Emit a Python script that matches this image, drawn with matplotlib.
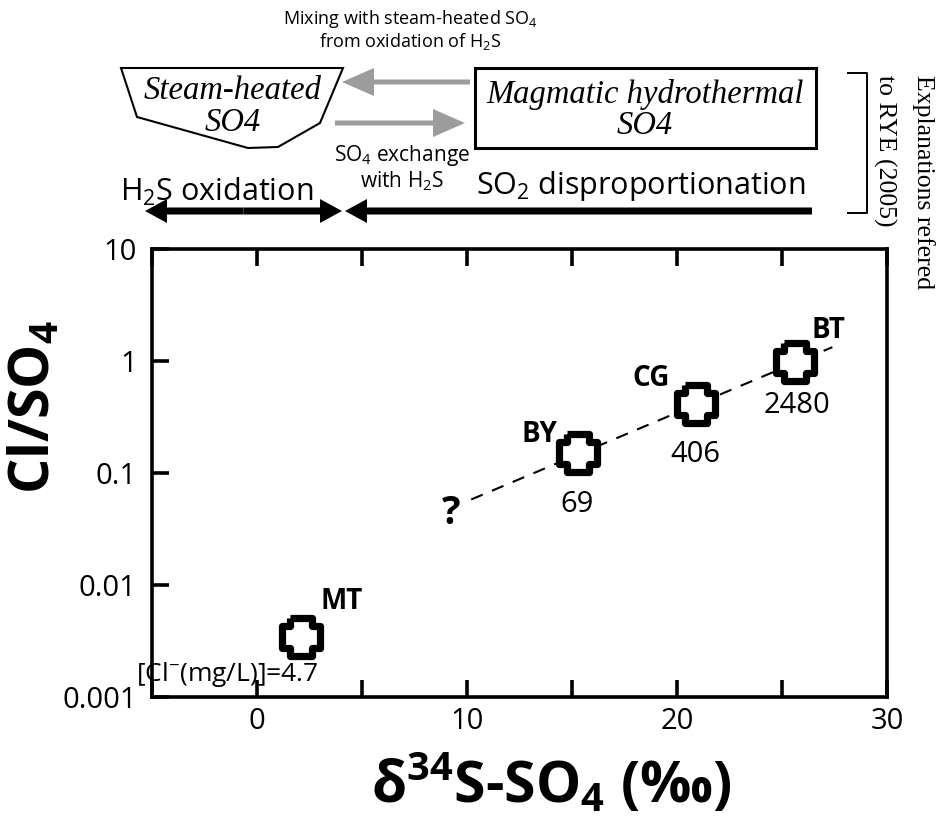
import matplotlib
matplotlib.use("Agg")
import matplotlib.pyplot as plt
from matplotlib.markers import MarkerStyle
from matplotlib.patches import Polygon, Rectangle, FancyArrow
from matplotlib.ticker import NullLocator

plt.rcParams["font.family"] = ["Open Sans", "DejaVu Sans"]
plt.rcParams["mathtext.default"] = "regular"

# hot spring samples: d34S of sulfate (permil) vs Cl/SO4
sites = ["MT", "BY", "CG", "BT"]
d34s = [2.1, 15.3, 20.9, 25.6]
cl_so4 = [0.0034, 0.15, 0.41, 0.98]
cl_mgl = ["[Cl$^{-}$(mg/L)]=4.7", "69", "406", "2480"]

# dashed trend through BY-CG-BT, extended down to "?"
trend_x = [10.2, 27.4]
trend_y = [0.058, 1.33]

xticks = [-5, 0, 5, 10, 15, 20, 25, 30]
xtick_labels = ["", "0", "", "10", "", "20", "", "30"]
yticks = [0.001, 0.01, 0.1, 1, 10]
ytick_labels = ["0.001", "0.01", "0.1", "1", "10"]

W, H = 937, 823
fig = plt.figure(figsize=(W / 100, H / 100), dpi=100)

# overlay in pixel coordinates for the schematic on top (drawn underneath)
ov = fig.add_axes([0, 0, 1, 1], zorder=0)
ov.set_xlim(0, W)
ov.set_ylim(H, 0)
ov.axis("off")

ax = fig.add_axes([152 / W, 1 - 697 / H, (887 - 152) / W, (697 - 249) / H],
                  zorder=1)
ax.patch.set_visible(False)

ax.set_yscale("log")
ax.set_xlim(-5, 30)
ax.set_ylim(0.001, 10)
ax.set_xticks(xticks)
ax.set_xticklabels(xtick_labels, fontsize=21)
ax.set_yticks(yticks)
ax.set_yticklabels(ytick_labels, fontsize=21)
ax.yaxis.set_minor_locator(NullLocator())
ax.xaxis.set_minor_locator(NullLocator())
ax.tick_params(which="major", direction="in", length=12, width=2.6,
               color="black", top=True, bottom=True, left=True, right=False)
ax.tick_params(axis="x", pad=7)
ax.tick_params(axis="y", pad=11)
for s in ax.spines.values():
    s.set_linewidth(2.6)

ax.plot(trend_x, trend_y, color="k", lw=1.5, ls=(0, (6, 4.8)), zorder=2)

plus = [(-0.56, 1), (0.56, 1), (0.56, 0.56), (1, 0.56), (1, -0.56),
        (0.56, -0.56), (0.56, -1), (-0.56, -1), (-0.56, -0.56), (-1, -0.56),
        (-1, 0.56), (-0.56, 0.56), (-0.56, 1)]
mk = MarkerStyle(plus, joinstyle="miter")
ax.plot(d34s, cl_so4, ls="none", marker=mk, ms=27.5, mfc="white", mec="k",
        mew=5.2, zorder=3)

name_off = [(41, 36), (-39, 19), (-45, 26), (34, 31)]
num_off = [(-74, -37), (-1, -51), (-1, -50), (2, -44)]
for i in range(len(sites)):
    ax.annotate(sites[i], (d34s[i], cl_so4[i]), xytext=name_off[i],
                textcoords="offset pixels", ha="center", va="center",
                fontsize=20, fontweight="bold")
    ax.annotate(cl_mgl[i], (d34s[i], cl_so4[i]), xytext=num_off[i],
                textcoords="offset pixels", ha="center", va="center",
                fontsize=19 if i == 0 else 21)
ax.annotate("?", (trend_x[0], trend_y[0]), xytext=(-20, -14),
            textcoords="offset pixels", ha="center", va="center",
            fontsize=28, fontweight="bold")

serif = ["Liberation Serif", "DejaVu Serif"]

ov.text(410, 30, "Mixing with steam-heated SO$_4$\nfrom oxidation of H$_2$S",
        ha="center", va="center", fontsize=13, linespacing=1.1)

ov.add_patch(Polygon([(121, 68), (343, 68), (320, 123), (278, 147),
                      (248, 148), (137, 117)], closed=True, fill=False,
                     lw=1.5, ec="k"))
ov.text(233, 107, "Steam-heated\nSO4", ha="center", va="center",
        family=serif, style="italic", fontsize=23.5, linespacing=1.05)

ov.add_patch(Rectangle((475, 68), 341, 80, fill=False, lw=2.2, ec="k"))
ov.text(645, 110, "Magmatic hydrothermal\nSO4", ha="center", va="center",
        family=serif, style="italic", fontsize=23.5, linespacing=1.05)

grey = "#9c9c9c"
ov.add_patch(FancyArrow(470, 82, -128, 0, width=5, head_width=28,
                        head_length=32, length_includes_head=True,
                        color=grey, lw=0))
ov.add_patch(FancyArrow(335, 123, 130, 0, width=5, head_width=28,
                        head_length=32, length_includes_head=True,
                        color=grey, lw=0))

ov.text(402, 168, "SO$_4$ exchange\nwith H$_2$S", ha="center", va="center",
        fontsize=15, linespacing=1.1)
ov.text(217, 192, "H$_2$S oxidation", ha="center", va="center", fontsize=22)
ov.text(641, 186, "SO$_2$ disproportionation", ha="center", va="center",
        fontsize=22)

# black process arrows
for x0, dx in [(243.5, -98.5), (243.5, 98.5), (812, -467)]:
    ov.add_patch(FancyArrow(x0, 211, dx, 0, width=7, head_width=24,
                            head_length=22, length_includes_head=True,
                            color="k", lw=0))

# bracket and note
ov.plot([848, 867, 867, 848], [73, 73, 213, 213], color="k", lw=1.4)
ov.text(923, 75, "Explanations refered", rotation=-90, ha="center", va="top",
        family=serif, fontsize=18.5)
ov.text(885, 75, "to RYE (2005)", rotation=-90, ha="center", va="top",
        family=serif, fontsize=18.5)

# axis titles
ov.text(35, 407, "Cl/SO$_4$", rotation=90, ha="center", va="center",
        fontsize=40, fontweight="bold")
ov.text(551, 785, "δ$^{34}$S-SO$_4$ (‰)", ha="center", va="center",
        fontsize=41, fontweight="bold")

fig.savefig("out.png", dpi=100)
